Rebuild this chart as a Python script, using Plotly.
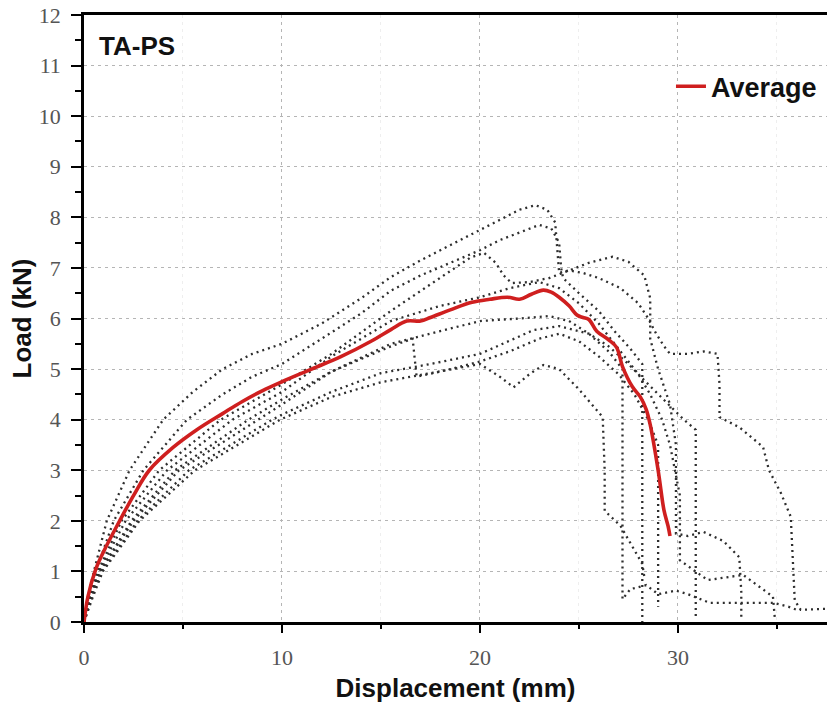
import plotly.graph_objects as go

# ---------------- data ----------------
avg_x = [0, 0.2, 0.6, 1.0, 1.8, 2.5, 3.3, 4.5, 5.7, 7, 8, 9, 10, 11.5, 13, 14.5, 15.5, 16.3, 17,
         17.5, 18.5, 19.6, 20.5, 21.4, 22, 22.6, 23.2, 23.6, 24.0, 24.5, 24.9, 25.2, 25.5, 25.9,
         26.5, 26.9, 27.2, 27.7, 28.1, 28.4, 28.6, 29.0, 29.3, 29.5, 29.6]
avg_y = [0, 0.5, 1.05, 1.4, 2.0, 2.5, 3.0, 3.45, 3.8, 4.12, 4.36, 4.57, 4.75, 5.0, 5.25, 5.55, 5.78,
         5.95, 5.95, 6.02, 6.17, 6.32, 6.38, 6.42, 6.38, 6.48, 6.56, 6.52, 6.42, 6.25, 6.07, 6.02,
         5.98, 5.75, 5.58, 5.43, 5.05, 4.65, 4.45, 4.2, 3.9, 3.0, 2.2, 1.9, 1.7]

s1_x = [0, 0.2, 0.5, 1.15, 2.3, 4.0, 5.5, 7.0, 8.5, 10, 12, 14, 15.5, 17, 18.5, 20, 21, 22, 22.8,
        23.4, 23.8, 23.9, 24.0, 24.5, 25.2, 26, 27.1, 28.0, 28.5, 28.9, 29.3, 29.6, 30.5, 31.3,
        32.0, 32.1, 32.1, 33.1, 34.3, 34.6, 35.2, 35.7, 35.8, 35.9, 36.2, 37.5, 38]
s1_y = [0, 0.5, 1.0, 2.0, 3.0, 4.0, 4.55, 5.0, 5.3, 5.5, 5.9, 6.4, 6.82, 7.15, 7.45, 7.75, 7.95,
        8.15, 8.24, 8.15, 7.9, 7.4, 6.9, 6.95, 6.9, 6.8, 6.6, 6.3, 6.0, 5.7, 5.45, 5.3, 5.3, 5.35,
        5.3, 4.7, 4.05, 3.85, 3.46, 3.0, 2.55, 2.08, 1.36, 0.43, 0.24, 0.27, 0.27]

s2_x = [0, 0.25, 0.6, 1.5, 3.0, 5.2, 7, 8.5, 10, 12, 14, 15.5, 17, 18.5, 20, 21, 22, 23, 23.6,
        24.0, 24.1, 24.2, 25, 26, 26.8, 27.6, 28.2, 28.2, 28.2]
s2_y = [0, 0.5, 1.0, 2.0, 3.0, 4.0, 4.5, 4.85, 5.1, 5.6, 6.1, 6.55, 6.85, 7.1, 7.35, 7.55, 7.7,
        7.85, 7.78, 7.5, 7.0, 6.8, 6.5, 6.15, 5.75, 5.4, 5.1, 2.5, 0.0]

s3_x = [0, 0.3, 0.7, 1.9, 3.8, 6.9, 10, 12.5, 15.5, 17, 18.5, 19.5, 20.2, 20.8, 21.2, 21.6, 22.5,
        23.5, 24.5, 25.5, 26.7, 27.5, 28.3, 28.6, 28.6, 29.0, 29.6, 29.9, 29.9, 30.5, 31.3, 32.3,
        33.1, 33.2, 33.2]
s3_y = [0, 0.5, 1.0, 2.0, 3.0, 4.0, 4.7, 5.3, 6.15, 6.55, 6.95, 7.2, 7.3, 7.1, 6.85, 6.7, 6.72,
        6.8, 6.95, 7.1, 7.22, 7.12, 6.85, 6.4, 5.6, 5.0, 4.3, 3.5, 1.75, 1.7, 1.78, 1.6, 1.28,
        0.6, 0.1]

s4_x = [0, 0.3, 0.75, 2.1, 4.2, 7.5, 10, 12.5, 15.5, 18, 20, 21.5, 23, 24, 25, 26, 27, 28, 28.6,
        29.2, 29.6, 30.1, 30.1, 31.5, 33.3, 34.8, 34.9]
s4_y = [0, 0.5, 1.0, 2.0, 3.0, 4.0, 4.55, 5.25, 5.95, 6.25, 6.42, 6.6, 6.72, 6.6, 6.3, 5.9, 5.4,
        4.9, 4.5, 4.0, 3.5, 2.5, 1.22, 0.83, 0.93, 0.5, 0.05]

s5_x = [0, 0.35, 0.8, 2.4, 4.6, 8.3, 10, 12.5, 15.5, 18, 20, 22, 23.5, 24.5, 25.5, 26.5, 27.2,
        27.2, 27.2, 27.6, 28.4, 29.0, 29.9, 30.5, 31.6, 33.0, 34.8, 35.6, 36.0]
s5_y = [0, 0.5, 1.0, 2.0, 3.0, 4.0, 4.4, 4.95, 5.5, 5.75, 5.95, 6.0, 6.05, 5.95, 5.7, 5.35, 5.0,
        2.0, 0.45, 0.65, 0.73, 0.55, 0.62, 0.55, 0.38, 0.38, 0.38, 0.3, 0.24]

s6_x = [0, 0.35, 0.8, 2.5, 4.8, 8.8, 10, 12.5, 15.5, 16.6, 16.7, 16.8, 18, 20, 21.5, 23, 24, 25,
        26, 27, 27.8, 28.5, 29.0, 29.0, 29.0]
s6_y = [0, 0.5, 1.0, 2.0, 3.0, 4.0, 4.3, 4.95, 5.45, 5.6, 5.2, 4.85, 4.95, 5.15, 5.35, 5.6, 5.7,
        5.55, 5.25, 4.9, 4.5, 4.0, 3.5, 1.5, 0.3]

s7_x = [0, 0.4, 0.9, 2.7, 5.3, 9.5, 10, 12.5, 15, 17.5, 20, 22.7, 24, 25.5, 26.5, 27.5, 28.5,
        29.5, 30.3, 30.9, 30.9, 30.9]
s7_y = [0, 0.5, 1.0, 2.0, 3.0, 4.0, 4.1, 4.55, 4.92, 5.1, 5.3, 5.77, 5.85, 5.7, 5.45, 5.1, 4.7,
        4.3, 4.0, 3.8, 2.0, 0.05]

s8_x = [0, 0.45, 0.95, 2.8, 5.6, 9.9, 12.5, 15, 17.5, 20, 21, 21.7, 22.5, 23.2, 24, 25, 26.2,
        26.3, 26.3, 27.1, 28.2, 28.3]
s8_y = [0, 0.5, 1.0, 2.0, 3.0, 4.0, 4.45, 4.74, 4.92, 5.1, 4.85, 4.64, 4.9, 5.08, 5.0, 4.6, 4.05,
        3.0, 2.2, 1.9, 1.15, 0.9]

specimens = [(s1_x, s1_y), (s2_x, s2_y), (s3_x, s3_y), (s4_x, s4_y),
             (s5_x, s5_y), (s6_x, s6_y), (s7_x, s7_y), (s8_x, s8_y)]

x_ticks = [0, 10, 20, 30]
y_ticks = list(range(0, 13))

# ---------------- figure ----------------
fig = go.Figure()

for i, (sx, sy) in enumerate(specimens):
    fig.add_trace(go.Scatter(
        x=sx, y=sy, mode="lines", name=f"Specimen {i+1}", showlegend=False,
        line=dict(color="#2e2e2e", width=2.3, dash="2px,4px"),
        hoverinfo="skip"))

fig.add_trace(go.Scatter(
    x=avg_x, y=avg_y, mode="lines", name="Average", showlegend=True,
    line=dict(color="#cf1f1f", width=3.6), line_shape="spline"))

tick_font = dict(family="Liberation Serif", size=22, color="#555555")
title_font = dict(family="Liberation Sans", size=26, color="#111111", weight="bold")

fig.update_layout(
    width=827, height=710,
    margin=dict(l=84, r=0, t=15, b=88),
    paper_bgcolor="white", plot_bgcolor="white",
    showlegend=True,
    legend=dict(x=0.79, y=0.882, xanchor="left", yanchor="middle",
                bgcolor="rgba(0,0,0,0)", itemwidth=30,
                font=dict(family="Liberation Sans", size=27, color="#111111", weight="bold")),
    annotations=[dict(text="TA-PS", xref="paper", yref="paper", x=0.017, y=0.949,
                      xanchor="left", yanchor="middle", showarrow=False,
                      font=dict(family="Liberation Sans", size=26, color="#111111", weight="bold"))],
)

fig.update_xaxes(
    range=[0, 37.53], tickvals=x_ticks, ticktext=[str(v) for v in x_ticks],
    showline=True, linecolor="black", linewidth=2.5, mirror=True,
    ticks="outside", ticklen=8, tickwidth=2, tickcolor="black",
    tickfont=tick_font, ticklabelstandoff=6,
    showgrid=True, gridcolor="#b5b5b5", gridwidth=1.4, griddash="3px,4px",
    minor=dict(dtick=5, tick0=0, ticks="outside", ticklen=4, tickwidth=2, tickcolor="black",
               showgrid=True, gridcolor="#eeeeee", gridwidth=1),
    zeroline=False, automargin=False,
    title=dict(text="Displacement (mm)", font=title_font, standoff=10),
)

fig.update_yaxes(
    range=[0, 12], tickvals=y_ticks, ticktext=[str(v) for v in y_ticks],
    showline=True, linecolor="black", linewidth=2.5,
    ticks="outside", ticklen=10, tickwidth=2, tickcolor="black",
    tickfont=tick_font, ticklabelstandoff=6,
    showgrid=True, gridcolor="#b5b5b5", gridwidth=1.4, griddash="3px,4px",
    minor=dict(dtick=0.5, tick0=0, ticks="outside", ticklen=6, tickwidth=2, tickcolor="black",
               showgrid=False),
    zeroline=False, automargin=False,
    title=dict(text="Load (kN)", font=title_font, standoff=0),
)

fig.write_html("out.html",
               config={"displayModeBar": False},
               post_script="document.body.style.margin='0px';"
                           "document.body.style.overflow='hidden';")
